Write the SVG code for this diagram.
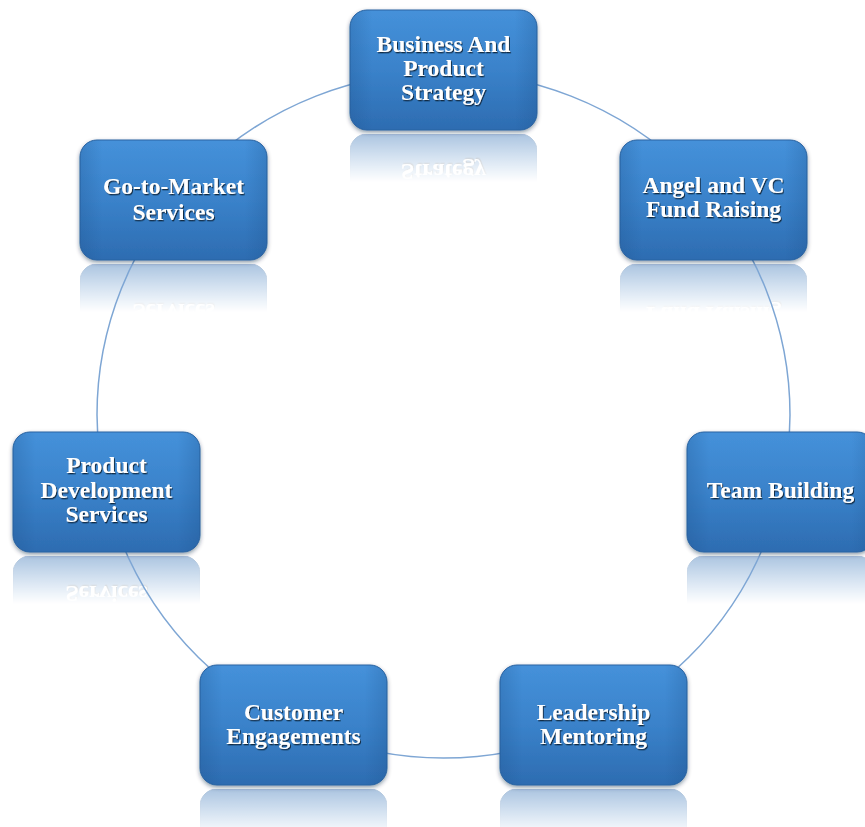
<svg xmlns="http://www.w3.org/2000/svg" width="865" height="827" viewBox="0 0 865 827">
<defs>
  <linearGradient id="boxGrad" x1="0" y1="0" x2="0" y2="1">
    <stop offset="0" stop-color="#4591da"/>
    <stop offset="0.5" stop-color="#3a82ca"/>
    <stop offset="1" stop-color="#2d6cb1"/>
  </linearGradient>
  <linearGradient id="sideGrad" x1="0" y1="0" x2="1" y2="0">
    <stop offset="0" stop-color="#1c4f88" stop-opacity="0.25"/>
    <stop offset="0.12" stop-color="#1c4f88" stop-opacity="0"/>
    <stop offset="0.88" stop-color="#1c4f88" stop-opacity="0"/>
    <stop offset="1" stop-color="#1c4f88" stop-opacity="0.25"/>
  </linearGradient>
  <linearGradient id="fadeGrad" x1="0" y1="1" x2="0" y2="0.6">
    <stop offset="0" stop-color="#fff" stop-opacity="0.4"/>
    <stop offset="1" stop-color="#fff" stop-opacity="0"/>
  </linearGradient>
  <mask id="fade" maskContentUnits="objectBoundingBox">
    <rect width="1" height="1" fill="url(#fadeGrad)"/>
  </mask>
  <filter id="boxShadow" x="-10%" y="-10%" width="120%" height="125%">
    <feDropShadow dx="0" dy="2" stdDeviation="2" flood-color="#0c2440" flood-opacity="0.45"/>
  </filter>
  <filter id="txtShadow" x="-10%" y="-30%" width="120%" height="160%">
    <feDropShadow dx="1" dy="1.3" stdDeviation="0.7" flood-color="#0f2238" flood-opacity="0.9"/>
  </filter>
</defs>
<style>
  .box { fill: url(#boxGrad); stroke: #2a64a3; stroke-width: 1; }
  .side { fill: url(#sideGrad); }
  .lbl { font-family: "Liberation Serif", "DejaVu Serif", serif; font-weight: bold; font-size: 23.5px; fill: #ffffff; text-anchor: middle; }
  .link { fill: none; stroke: #7ea6d4; stroke-width: 1.5; }
</style>
<rect width="865" height="827" fill="#ffffff"/>

<!-- reflections -->
<g id="reflections">
  <g transform="matrix(1,0,0,-1,0,264)" mask="url(#fade)">
    <rect class="box" x="350" y="10" width="187" height="120" rx="17"/>
    <text class="lbl" filter="url(#txtShadow)" x="443.5" y="100">Strategy</text>
  </g>
  <g transform="matrix(1,0,0,-1,0,524)" mask="url(#fade)">
    <rect class="box" x="620" y="140" width="187" height="120" rx="17"/>
    <text class="lbl" filter="url(#txtShadow)" x="713.5" y="217">Fund Raising</text>
  </g>
  <g transform="matrix(1,0,0,-1,0,1108)" mask="url(#fade)">
    <rect class="box" x="687" y="432" width="187" height="120" rx="17"/>
    <text class="lbl" filter="url(#txtShadow)" x="780.5" y="498">Team Building</text>
  </g>
  <g transform="matrix(1,0,0,-1,0,1574)" mask="url(#fade)">
    <rect class="box" x="500" y="665" width="187" height="120" rx="17"/>
  </g>
  <g transform="matrix(1,0,0,-1,0,1574)" mask="url(#fade)">
    <rect class="box" x="200" y="665" width="187" height="120" rx="17"/>
  </g>
  <g transform="matrix(1,0,0,-1,0,1108)" mask="url(#fade)">
    <rect class="box" x="13" y="432" width="187" height="120" rx="17"/>
    <text class="lbl" filter="url(#txtShadow)" x="106.5" y="522">Services</text>
  </g>
  <g transform="matrix(1,0,0,-1,0,524)" mask="url(#fade)">
    <rect class="box" x="80" y="140" width="187" height="120" rx="17"/>
    <text class="lbl" filter="url(#txtShadow)" x="173.5" y="220">Services</text>
  </g>
</g>

<!-- connectors -->
<g id="connectors">
  <ellipse class="link" cx="443.5" cy="415" rx="346.5" ry="343"/>
</g>

<!-- nodes -->
<g id="node-strategy">
  <rect class="box" filter="url(#boxShadow)" x="350" y="10" width="187" height="120" rx="17"/>
  <rect class="side" x="350" y="10" width="187" height="120" rx="17"/>
  <text class="lbl" filter="url(#txtShadow)" x="443.5" y="52">Business And</text>
  <text class="lbl" filter="url(#txtShadow)" x="443.5" y="76">Product</text>
  <text class="lbl" filter="url(#txtShadow)" x="443.5" y="100">Strategy</text>
</g>
<g id="node-fundraising">
  <rect class="box" filter="url(#boxShadow)" x="620" y="140" width="187" height="120" rx="17"/>
  <rect class="side" x="620" y="140" width="187" height="120" rx="17"/>
  <text class="lbl" filter="url(#txtShadow)" x="713.5" y="193">Angel and VC</text>
  <text class="lbl" filter="url(#txtShadow)" x="713.5" y="217">Fund Raising</text>
</g>
<g id="node-team">
  <rect class="box" filter="url(#boxShadow)" x="687" y="432" width="187" height="120" rx="17"/>
  <rect class="side" x="687" y="432" width="187" height="120" rx="17"/>
  <text class="lbl" filter="url(#txtShadow)" x="780.5" y="498">Team Building</text>
</g>
<g id="node-leadership">
  <rect class="box" filter="url(#boxShadow)" x="500" y="665" width="187" height="120" rx="17"/>
  <rect class="side" x="500" y="665" width="187" height="120" rx="17"/>
  <text class="lbl" filter="url(#txtShadow)" x="593.5" y="720">Leadership</text>
  <text class="lbl" filter="url(#txtShadow)" x="593.5" y="744">Mentoring</text>
</g>
<g id="node-customer">
  <rect class="box" filter="url(#boxShadow)" x="200" y="665" width="187" height="120" rx="17"/>
  <rect class="side" x="200" y="665" width="187" height="120" rx="17"/>
  <text class="lbl" filter="url(#txtShadow)" x="293.5" y="720">Customer</text>
  <text class="lbl" filter="url(#txtShadow)" x="293.5" y="744">Engagements</text>
</g>
<g id="node-productdev">
  <rect class="box" filter="url(#boxShadow)" x="13" y="432" width="187" height="120" rx="17"/>
  <rect class="side" x="13" y="432" width="187" height="120" rx="17"/>
  <text class="lbl" filter="url(#txtShadow)" x="106.5" y="473">Product</text>
  <text class="lbl" filter="url(#txtShadow)" x="106.5" y="498">Development</text>
  <text class="lbl" filter="url(#txtShadow)" x="106.5" y="522">Services</text>
</g>
<g id="node-gotomarket">
  <rect class="box" filter="url(#boxShadow)" x="80" y="140" width="187" height="120" rx="17"/>
  <rect class="side" x="80" y="140" width="187" height="120" rx="17"/>
  <text class="lbl" filter="url(#txtShadow)" x="173.5" y="194">Go-to-Market</text>
  <text class="lbl" filter="url(#txtShadow)" x="173.5" y="220">Services</text>
</g>
</svg>
